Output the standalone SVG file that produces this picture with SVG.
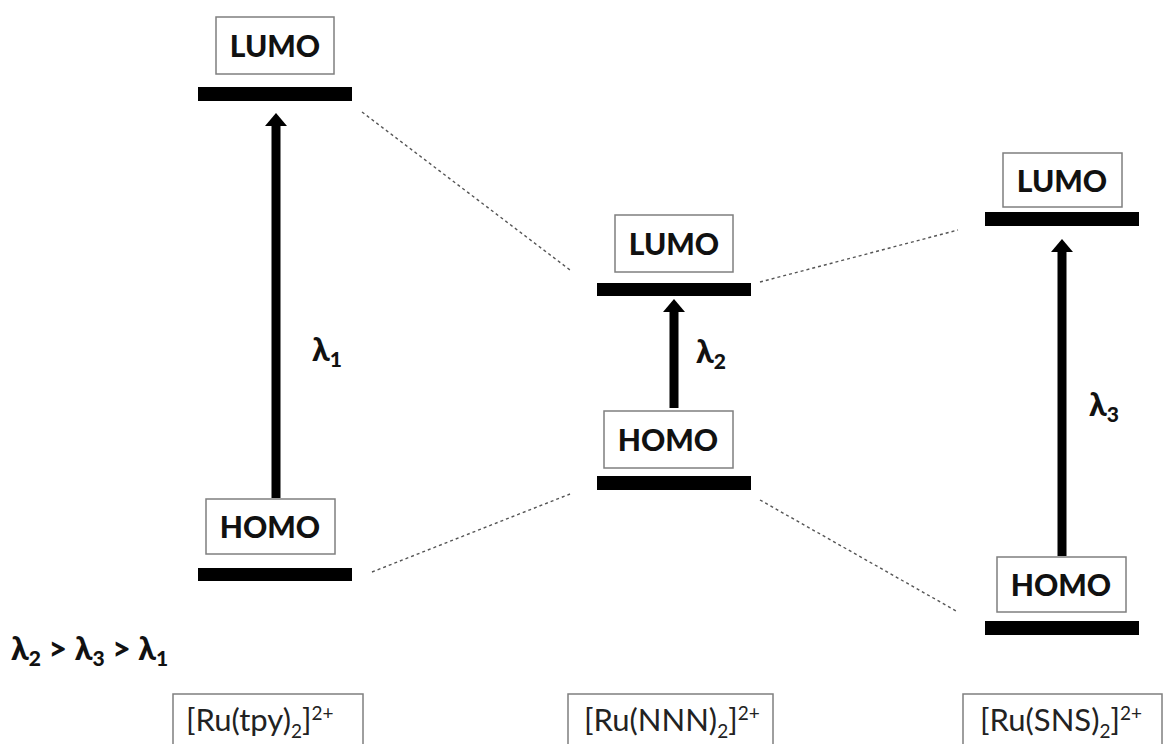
<svg xmlns="http://www.w3.org/2000/svg" width="1167" height="744" viewBox="0 0 1167 744">
<style>
.box{fill:#fff;stroke:#7f7f7f;stroke-width:1.5}
.bar{fill:#000}
.lbl{font-family:Lato,"Open Sans",sans-serif;font-weight:900;font-size:30px;fill:#111;text-anchor:middle}
.lam{font-family:Lato,"Open Sans",sans-serif;font-weight:900;font-size:32px;fill:#111}
.sub{font-size:21px}
.cpd{font-family:Lato,"Open Sans",sans-serif;font-size:31px;fill:#222}
.sup{font-size:19px}
.dash{stroke:#555;stroke-width:1.4;stroke-dasharray:3,3;fill:none}
.arr{stroke:#000;stroke-width:9;fill:none;marker-end:url(#ah)}
</style>
<defs>
<marker id="ah" markerUnits="userSpaceOnUse" markerWidth="14" markerHeight="22" refX="0" refY="11" orient="auto" overflow="visible">
<path d="M0,0 L13,11 L0,22 Z" fill="#000"/>
</marker>
</defs>
<rect width="1167" height="744" fill="#fff"/>
<g id="connectors">
<line class="dash" x1="362" y1="112" x2="570" y2="270"/>
<line class="dash" x1="760" y1="282" x2="958" y2="230"/>
<line class="dash" x1="372" y1="572" x2="570" y2="494"/>
<line class="dash" x1="760" y1="500" x2="958" y2="612"/>
<line class="arr" x1="276" y1="498" x2="276" y2="126"/>
<line class="arr" x1="674" y1="408" x2="674" y2="312"/>
<line class="arr" x1="1062" y1="556" x2="1062" y2="252"/>
</g>
<g id="tpy-lumo">
<rect class="box" x="216" y="17" width="118" height="57"/>
<text class="lbl" x="275" y="57">LUMO</text>
<rect class="bar" x="198" y="87" width="154" height="14"/>
</g>
<g id="tpy-homo">
<rect class="box" x="206" y="499" width="129" height="55"/>
<text class="lbl" x="270" y="538">HOMO</text>
<rect class="bar" x="198" y="568" width="154" height="13"/>
</g>
<g id="nnn-lumo">
<rect class="box" x="615" y="215" width="118" height="57"/>
<text class="lbl" x="674" y="255">LUMO</text>
<rect class="bar" x="597" y="283" width="154" height="13"/>
</g>
<g id="nnn-homo">
<rect class="box" x="604" y="411" width="129" height="57"/>
<text class="lbl" x="668" y="451">HOMO</text>
<rect class="bar" x="597" y="476" width="154" height="14"/>
</g>
<g id="sns-lumo">
<rect class="box" x="1003" y="153" width="119" height="54"/>
<text class="lbl" x="1062" y="192">LUMO</text>
<rect class="bar" x="985" y="212" width="154" height="14"/>
</g>
<g id="sns-homo">
<rect class="box" x="997" y="557" width="129" height="55"/>
<text class="lbl" x="1061" y="596">HOMO</text>
<rect class="bar" x="985" y="621" width="154" height="14"/>
</g>
<g id="lambda-labels">
<text class="lam" x="312" y="361">λ<tspan class="sub" dy="6">1</tspan></text>
<text class="lam" x="696" y="363">λ<tspan class="sub" dy="6">2</tspan></text>
<text class="lam" x="1089" y="416">λ<tspan class="sub" dy="6">3</tspan></text>
<text class="lam" x="11" y="660">λ<tspan class="sub" dy="6">2</tspan><tspan dy="-6"> &gt; λ</tspan><tspan class="sub" dy="6">3</tspan><tspan dy="-6"> &gt; λ</tspan><tspan class="sub" dy="6">1</tspan></text>
</g>
<g id="cpd-tpy">
<rect class="box" x="173" y="694" width="190" height="60"/>
<text class="cpd" x="186" y="731">[Ru(tpy)<tspan class="sup" dy="7">2</tspan><tspan dy="-7">]</tspan><tspan class="sup" dy="-11">2+</tspan></text>
</g>
<g id="cpd-nnn">
<rect class="box" x="568" y="694" width="205" height="60"/>
<text class="cpd" x="584" y="731">[Ru(NNN)<tspan class="sup" dy="7">2</tspan><tspan dy="-7">]</tspan><tspan class="sup" dy="-11">2+</tspan></text>
</g>
<g id="cpd-sns">
<rect class="box" x="963" y="694" width="199" height="60"/>
<text class="cpd" x="980" y="731">[Ru(SNS)<tspan class="sup" dy="7">2</tspan><tspan dy="-7">]</tspan><tspan class="sup" dy="-11">2+</tspan></text>
</g>
</svg>
